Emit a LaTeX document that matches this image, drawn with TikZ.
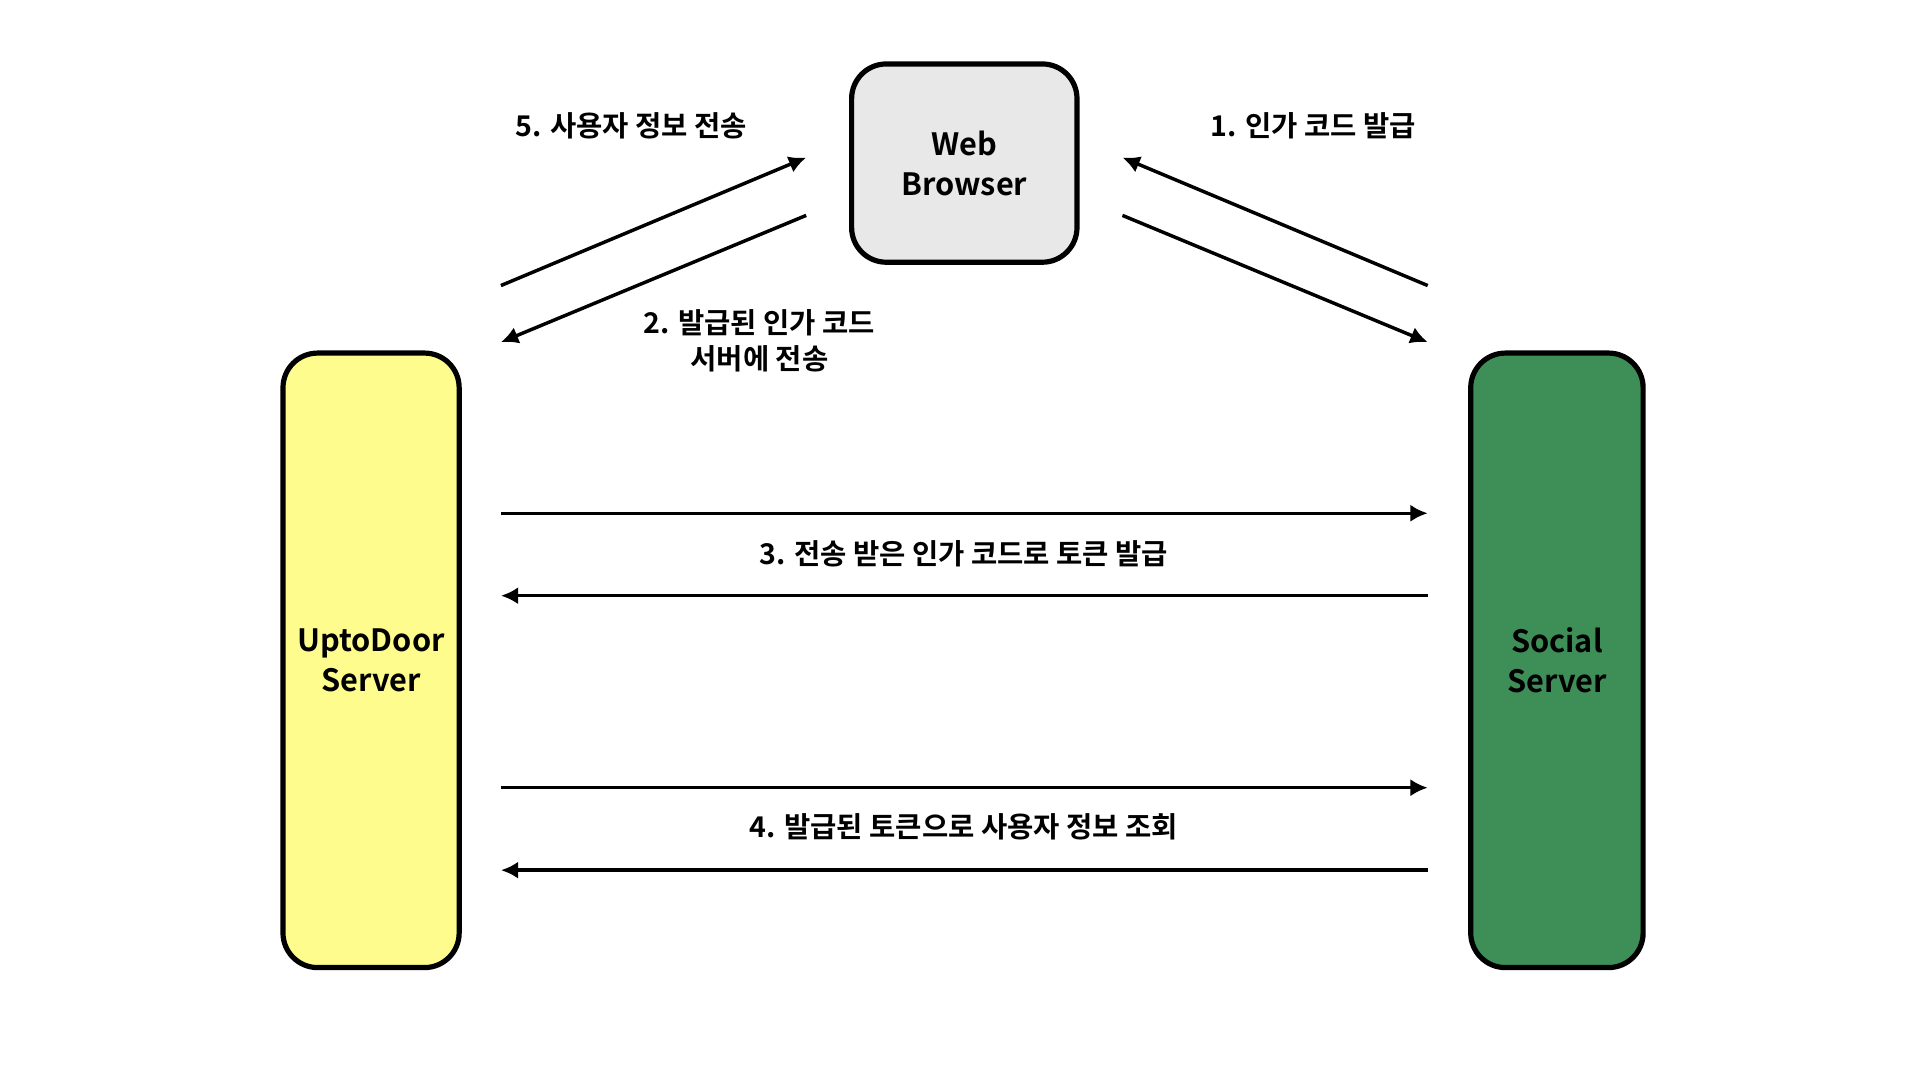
\documentclass[tikz,border=0pt]{standalone}
\usepackage{fontspec}
\setmainfont{Noto Sans CJK KR Bold}
\usetikzlibrary{arrows.meta}
\definecolor{boxgray}{HTML}{E8E8E8}
\definecolor{boxyellow}{HTML}{FEFC8C}
\definecolor{boxgreen}{HTML}{3E8E58}
\tikzset{
  box/.style = {draw, line width=1.2pt, rounded corners=8pt, align=center,
                font=\fontsize{7.1}{9.2}\selectfont},
  msg/.style = {line width=0.8pt, -{Latex[length=4pt,width=4pt]}},
  lbl/.style = {align=center, font=\fontsize{6.6}{8.4}\selectfont}
}
\begin{document}
\begin{tikzpicture}[x=0.01cm, y=-0.01cm]
\useasboundingbox (0,0) rectangle (1560,877.5);

% boxes
\node[box, fill=boxgray, minimum width=1.83cm, minimum height=1.61cm] (web) at (783.5,132.5) {Web\\Browser};
\node[box, fill=boxyellow, minimum width=1.39cm, minimum height=4.99cm] (upto) at (301.5,536.5) {UptoDoor\\Server};
\node[box, fill=boxgreen, minimum width=1.40cm, minimum height=4.99cm] (social) at (1265,536.5) {Social\\Server};

% arrow end points
\coordinate (ua) at (407,232);  \coordinate (ub) at (407,278);
\coordinate (wa) at (655,128);  \coordinate (wb) at (655,175);
\coordinate (wc) at (912,128);  \coordinate (wd) at (912,175);
\coordinate (sa) at (1160,232); \coordinate (sb) at (1160,278);
\foreach \y/\n in {417/1, 484/2, 640/3, 707/4}{
   \coordinate (l\n) at (407,\y);
   \coordinate (r\n) at (1160,\y);
   }

% messages
\draw[msg] (ua) -- (wa);
\draw[msg] (wb) -- (ub);
\draw[msg] (sa) -- (wc);
\draw[msg] (wd) -- (sb);
\draw[msg] (l1) -- (r1);
\draw[msg] (r2) -- (l2);
\draw[msg] (l3) -- (r3);
\draw[msg] (r4) -- (l4);

% labels
\node[lbl] (m5) at (513,102) {5. 사용자 정보 전송};
\node[lbl] (m1) at (1067,102) {1. 인가 코드 발급};
\node[lbl] (m2) at (617,277) {2. 발급된 인가 코드\\서버에 전송};
\node[lbl] (m3) at (783,450) {3. 전송 받은 인가 코드로 토큰 발급};
\node[lbl] (m4) at (783,672) {4. 발급된 토큰으로 사용자 정보 조회};
\end{tikzpicture}
\end{document}
